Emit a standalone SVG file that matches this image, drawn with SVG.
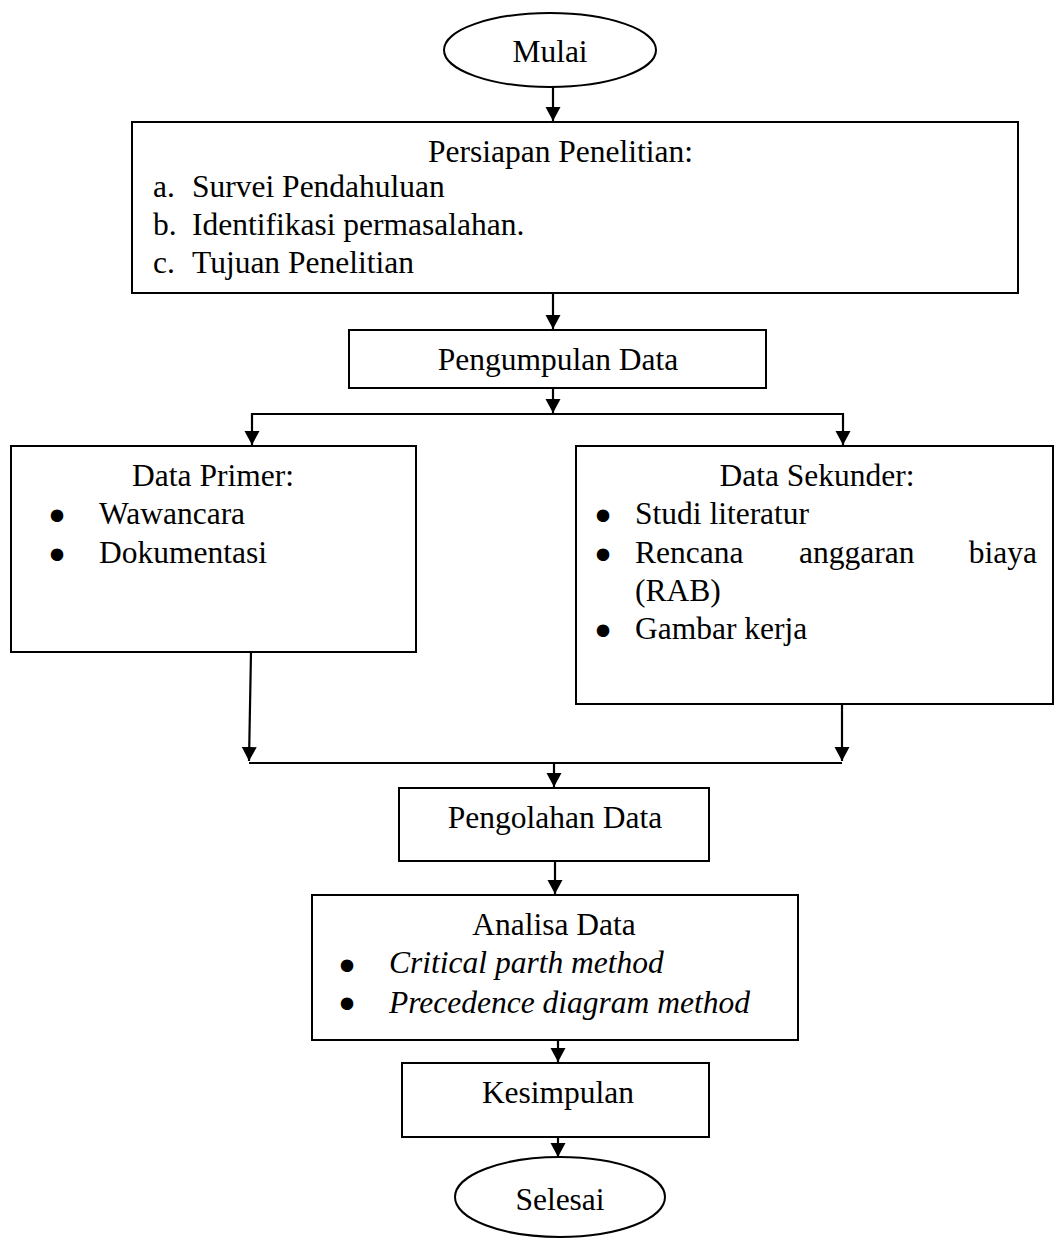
<svg xmlns="http://www.w3.org/2000/svg" width="1056" height="1242" viewBox="0 0 1056 1242">
  <style>
    .box { fill: #ffffff; stroke: #000000; stroke-width: 2; }
    .line { fill: none; stroke: #000000; stroke-width: 2.2; }
    .t { font-family: "Liberation Serif", "Times New Roman", serif; font-size: 31.5px; fill: #000000; }
    .it { font-style: italic; }
    .mid { text-anchor: middle; }
    .bul { font-family: "Liberation Serif", "Times New Roman", serif; font-size: 31.5px; fill: #000000; stroke: #000000; stroke-width: 5; stroke-linejoin: round; text-anchor: middle; }
  </style>
  <defs>
    <marker id="arrow" markerUnits="userSpaceOnUse" markerWidth="16" markerHeight="16" viewBox="0 0 16 16" refX="14" refY="8" orient="auto">
      <path d="M0,0.5 L14,8 L0,15.5 Z" fill="#000000"/>
    </marker>
  </defs>

  <rect width="1056" height="1242" fill="#ffffff"/>

  <!-- connectors -->
  <g id="connectors">
    <line class="line" x1="553" y1="87" x2="553" y2="121" marker-end="url(#arrow)"/>
    <line class="line" x1="553" y1="293" x2="553" y2="329" marker-end="url(#arrow)"/>
    <line class="line" x1="553" y1="388" x2="553" y2="413" marker-end="url(#arrow)"/>
    <polyline class="line" points="252,414 843,414"/>
    <line class="line" x1="252" y1="413" x2="252" y2="445" marker-end="url(#arrow)"/>
    <line class="line" x1="843" y1="413" x2="843" y2="445" marker-end="url(#arrow)"/>
    <line class="line" x1="251" y1="652" x2="249" y2="761" marker-end="url(#arrow)"/>
    <line class="line" x1="842" y1="704" x2="842" y2="761" marker-end="url(#arrow)"/>
    <polyline class="line" points="249,763 842,763"/>
    <line class="line" x1="554" y1="763" x2="554" y2="787" marker-end="url(#arrow)"/>
    <line class="line" x1="555" y1="861" x2="555" y2="894" marker-end="url(#arrow)"/>
    <line class="line" x1="558" y1="1040" x2="558" y2="1062" marker-end="url(#arrow)"/>
    <line class="line" x1="558" y1="1137" x2="558" y2="1157" marker-end="url(#arrow)"/>
  </g>

  <!-- start terminal -->
  <g id="mulai">
    <ellipse class="box" cx="550" cy="50" rx="106" ry="37"/>
    <text class="t mid" x="550" y="62">Mulai</text>
  </g>

  <!-- research preparation -->
  <g id="persiapan">
    <rect class="box" x="132" y="122" width="886" height="171"/>
    <text class="t" x="428" y="162">Persiapan Penelitian:</text>
    <text class="t" x="153" y="197">a.</text>
    <text class="t" x="192" y="197">Survei Pendahuluan</text>
    <text class="t" x="153" y="235">b.</text>
    <text class="t" x="192" y="235">Identifikasi permasalahan.</text>
    <text class="t" x="153" y="273">c.</text>
    <text class="t" x="192" y="273">Tujuan Penelitian</text>
  </g>

  <!-- data collection -->
  <g id="pengumpulan">
    <rect class="box" x="349" y="330" width="417" height="58"/>
    <text class="t mid" x="558" y="370">Pengumpulan Data</text>
  </g>

  <!-- primary data -->
  <g id="data-primer">
    <rect class="box" x="11" y="446" width="405" height="206"/>
    <text class="t mid" x="213" y="486">Data Primer:</text>
    <text class="bul" x="57" y="527">•</text>
    <text class="t" x="99" y="524">Wawancara</text>
    <text class="bul" x="57" y="566">•</text>
    <text class="t" x="99" y="563">Dokumentasi</text>
  </g>

  <!-- secondary data -->
  <g id="data-sekunder">
    <rect class="box" x="576" y="446" width="477" height="258"/>
    <text class="t mid" x="817" y="486">Data Sekunder:</text>
    <text class="bul" x="603" y="527">•</text>
    <text class="t" x="635" y="524">Studi literatur</text>
    <text class="bul" x="603" y="566">•</text>
    <text class="t" x="635" y="563">Rencana</text>
    <text class="t" x="799" y="563">anggaran</text>
    <text class="t" x="1037" y="563" text-anchor="end">biaya</text>
    <text class="t" x="635" y="601">(RAB)</text>
    <text class="bul" x="603" y="642">•</text>
    <text class="t" x="635" y="639">Gambar kerja</text>
  </g>

  <!-- data processing -->
  <g id="pengolahan">
    <rect class="box" x="399" y="788" width="310" height="73"/>
    <text class="t mid" x="555" y="828">Pengolahan Data</text>
  </g>

  <!-- data analysis -->
  <g id="analisa">
    <rect class="box" x="312" y="895" width="486" height="145"/>
    <text class="t mid" x="554" y="935">Analisa Data</text>
    <text class="bul" x="347" y="977">•</text>
    <text class="t it" x="389" y="973">Critical parth method</text>
    <text class="bul" x="347" y="1015">•</text>
    <text class="t it" x="389" y="1013">Precedence diagram method</text>
  </g>

  <!-- conclusion -->
  <g id="kesimpulan">
    <rect class="box" x="402" y="1063" width="307" height="74"/>
    <text class="t mid" x="558" y="1103">Kesimpulan</text>
  </g>

  <!-- end terminal -->
  <g id="selesai">
    <ellipse class="box" cx="560" cy="1197" rx="105" ry="40"/>
    <text class="t mid" x="560" y="1210">Selesai</text>
  </g>
</svg>
